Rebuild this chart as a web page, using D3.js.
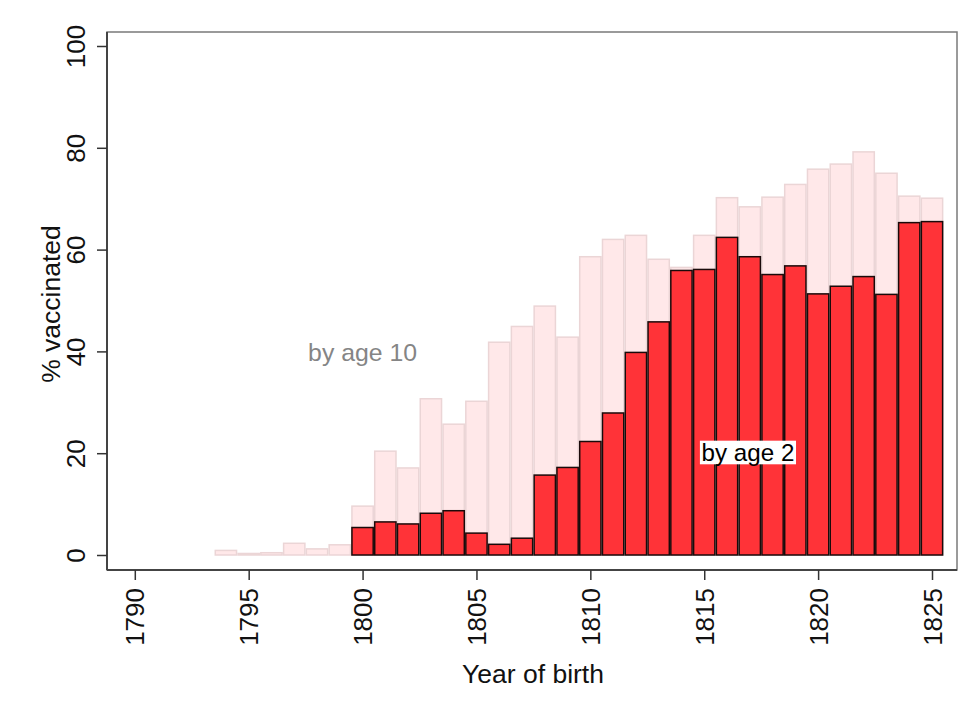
<!DOCTYPE html>
<html lang="en">
<head>
  <meta charset="UTF-8">
  <title>Vaccination by year of birth</title>
  <script src="https://d3js.org/d3.v7.min.js"></script>
  <style>
    body { margin: 0; background: #fff; }
    text { font-family: "Liberation Sans", Arial, sans-serif; }
  </style>
</head>
<body>
<div id="chart"></div>
<script>
  let width = 973;
  let height = 713;

  // share vaccinated by age 10 (light bars)
  let years10 = [1794, 1795, 1796, 1797, 1798, 1799, 1800, 1801, 1802, 1803, 1804, 1805, 1806, 1807, 1808, 1809,
                 1810, 1811, 1812, 1813, 1814, 1815, 1816, 1817, 1818, 1819, 1820, 1821, 1822, 1823, 1824, 1825];
  let age10 = [0.9, 0.3, 0.45, 2.3, 1.2, 2.0, 9.6, 20.4, 17.1, 30.7, 25.7, 30.2, 41.8, 44.9, 48.9, 42.8,
               58.6, 62.0, 62.8, 58.1, 56.5, 62.8, 70.2, 68.4, 70.3, 72.8, 75.8, 76.8, 79.2, 75.0, 70.5, 70.1];

  // share vaccinated by age 2 (red bars)
  let years2 = [1800, 1801, 1802, 1803, 1804, 1805, 1806, 1807, 1808, 1809, 1810, 1811, 1812,
                1813, 1814, 1815, 1816, 1817, 1818, 1819, 1820, 1821, 1822, 1823, 1824, 1825];
  let age2 = [5.4, 6.5, 6.1, 8.2, 8.7, 4.3, 2.1, 3.3, 15.7, 17.2, 22.3, 27.9, 39.8,
              45.8, 55.9, 56.1, 62.4, 58.6, 55.1, 56.8, 51.3, 52.8, 54.7, 51.2, 65.3, 65.5];

  let xTicks = [1790, 1795, 1800, 1805, 1810, 1815, 1820, 1825];
  let yTicks = [0, 20, 40, 60, 80, 100];

  let box = { left: 107, right: 957, top: 32, bottom: 570 };

  let x = d3.scaleLinear().domain([1790, 1825]).range([134.8, 932]);
  let y = d3.scaleLinear().domain([0, 100]).range([555, 46]);

  let svg = d3.select("#chart")
          .append("svg")
          .attr("width", width)
          .attr("height", height);

  // plot region border
  svg.append("rect")
          .attr("x", box.left)
          .attr("y", box.top)
          .attr("width", box.right - box.left)
          .attr("height", box.bottom - box.top)
          .attr("fill", "#fff")
          .attr("stroke", "#7a7a7a")
          .attr("stroke-width", 1.5);

  function barData(years, vals) {
    return years.map((yr, i) => ({ year: yr, value: vals[i] }));
  }

  // by age 10
  svg.append("g")
          .selectAll("rect")
          .data(barData(years10, age10))
          .join("rect")
          .attr("x", d => x(d.year - 0.5) + 0.75)
          .attr("width", d => x(d.year + 0.5) - x(d.year - 0.5) - 1.5)
          .attr("y", d => y(d.value))
          .attr("height", d => y(0) - y(d.value))
          .attr("fill", "#ffe8e9")
          .attr("stroke", "#ebd5d6")
          .attr("stroke-width", 1.5);

  // by age 2
  svg.append("g")
          .selectAll("rect")
          .data(barData(years2, age2))
          .join("rect")
          .attr("x", d => x(d.year - 0.5) + 0.75)
          .attr("width", d => x(d.year + 0.5) - x(d.year - 0.5) - 1.5)
          .attr("y", d => y(d.value))
          .attr("height", d => y(0) - y(d.value))
          .attr("fill", "#ff3338")
          .attr("stroke", "#1a0a0a")
          .attr("stroke-width", 1.5);

  // axes
  let xAxis = d3.axisBottom(x).tickValues(xTicks).tickSize(10).tickPadding(6).tickFormat(d3.format("d"));
  let gx = svg.append("g").attr("transform", `translate(0,${box.bottom})`).call(xAxis);
  gx.select(".domain").attr("d", `M${box.left},0H${box.right}`).attr("stroke", "#444").attr("stroke-width", 2);
  gx.selectAll(".tick line").attr("stroke", "#333").attr("stroke-width", 1.5);
  gx.selectAll(".tick text")
          .attr("transform", "rotate(-90)")
          .attr("x", -18)
          .attr("y", 0)
          .attr("dy", "0.35em")
          .attr("text-anchor", "end")
          .attr("fill", "#111")
          .style("font-size", "26px");

  let yAxis = d3.axisLeft(y).tickValues(yTicks).tickSize(10).tickPadding(6);
  let gy = svg.append("g").attr("transform", `translate(${box.left},0)`).call(yAxis);
  gy.select(".domain").attr("d", `M0,${box.top}V${box.bottom}`).attr("stroke", "#444").attr("stroke-width", 2);
  gy.selectAll(".tick line").attr("stroke", "#333").attr("stroke-width", 1.5);
  gy.selectAll(".tick text")
          .attr("transform", "rotate(-90)")
          .attr("x", 0)
          .attr("y", -22)
          .attr("dy", 0)
          .attr("text-anchor", "middle")
          .attr("fill", "#111")
          .style("font-size", "26px");

  // axis titles
  svg.append("text")
          .attr("x", 533)
          .attr("y", 683)
          .attr("text-anchor", "middle")
          .attr("fill", "#111")
          .style("font-size", "26.5px")
          .text("Year of birth");

  svg.append("text")
          .attr("transform", "translate(60,304) rotate(-90)")
          .attr("text-anchor", "middle")
          .attr("fill", "#111")
          .style("font-size", "26.5px")
          .text("% vaccinated");

  // series labels
  svg.append("text")
          .attr("x", x(1800))
          .attr("y", y(38.1))
          .attr("text-anchor", "middle")
          .attr("fill", "#858585")
          .style("font-size", "24.8px")
          .text("by age 10");

  let lab2 = svg.append("g");
  lab2.append("rect")
          .attr("x", x(1814.81))
          .attr("y", y(22.46))
          .attr("width", x(1819.03) - x(1814.81))
          .attr("height", y(17.82) - y(22.46))
          .attr("fill", "#fff");
  lab2.append("text")
          .attr("x", x(1816.92))
          .attr("y", y(18.47))
          .attr("text-anchor", "middle")
          .attr("fill", "#000")
          .style("font-size", "24.2px")
          .text("by age 2");
</script>
</body>
</html>
